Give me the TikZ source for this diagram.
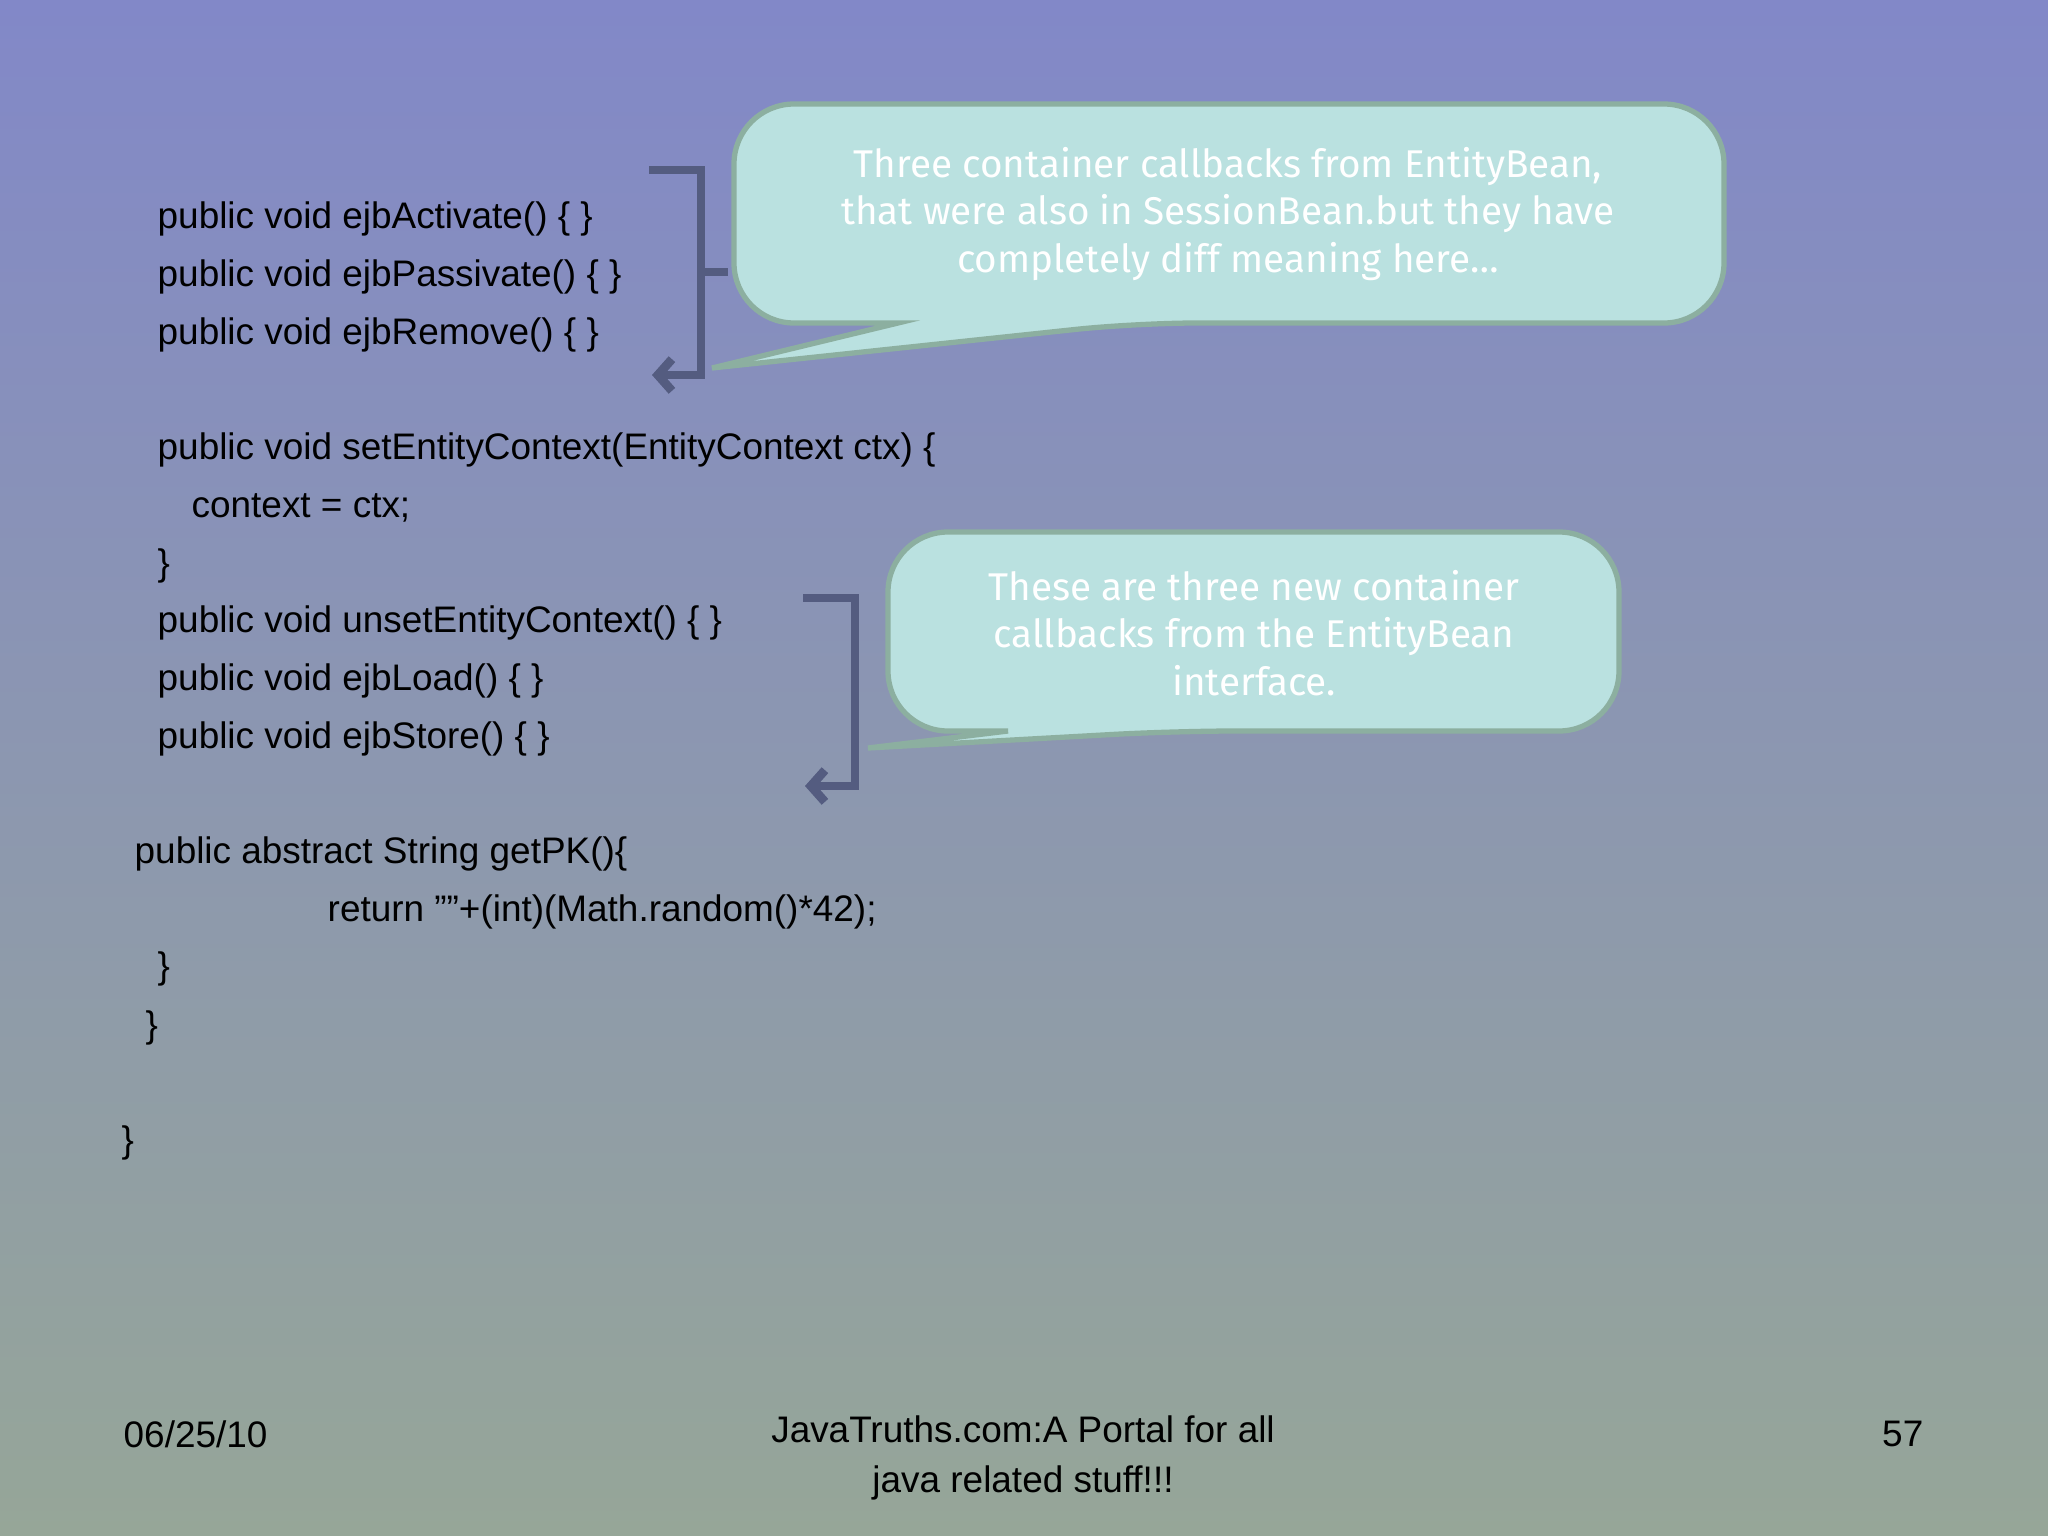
\documentclass[tikz,border=0pt]{standalone}
\usepackage{fontspec}
\setmainfont{Liberation Sans}
\newfontfamily\notefont{Fira Sans}
\usetikzlibrary{arrows.meta}
\definecolor{bgtop}{RGB}{130,136,200}
\definecolor{bgbot}{RGB}{150,166,152}
\definecolor{bubble}{RGB}{186,225,224}
\definecolor{bubbleedge}{RGB}{140,175,160}
\definecolor{brk}{RGB}{84,92,128}
\tikzset{
  code/.style={anchor=west, inner sep=0pt, font=\fontsize{10.5}{12}\selectfont},
  note/.style={align=center, text=white, font=\notefont\fontsize{11}{13.5}\selectfont},
  callout/.style={fill=bubble, draw=bubbleedge, line width=1.5pt, rounded corners=0.6cm},
  bracket/.style={draw=brk, line width=2.5pt, -{Straight Barb[length=4pt,width=9pt]}}
}
\begin{document}
\begin{tikzpicture}[x=0.01cm, y=-0.01cm]
  \shade[top color=bgtop, bottom color=bgbot] (0,0) rectangle (2048,1536);
  \useasboundingbox (0,0) rectangle (2048,1536);

  % callouts
  \draw[callout] (898,323) -- (734,323) -- (734,104) -- (1724,104) -- (1724,323) -- (1136,323)
    [rounded corners=0] -- (712,368) -- cycle;
  \draw[callout] (1008,731) -- (888,731) -- (888,532) -- (1619,532) -- (1619,731) -- (1175,731)
    [rounded corners=0] -- (868,748) -- cycle;
  \node[note] (n1) at (1228,214) {Three container callbacks from EntityBean,\\
    that were also in SessionBean.but they have\\ completely diff meaning here\dots};
  \node[note] (n2) at (1254,633) {These are three new container\\
    callbacks from the EntityBean\\ interface.};

  % brackets
  \draw[bracket] (649,170) -- (701,170) -- (701,375) -- (652,375);
  \draw[brk, line width=2.5pt] (701,272) -- (728,272);
  \draw[bracket] (803,598) -- (855,598) -- (855,786) -- (805,786);

  % code
  \node[code] (c1) at (157,219) {public void ejbActivate() \{ \}};
  \node[code] (c2) at (157,277) {public void ejbPassivate() \{ \}};
  \node[code] (c3) at (157,335) {public void ejbRemove() \{ \}};
  \node[code] (c4) at (157,450) {public void setEntityContext(EntityContext ctx) \{};
  \node[code] (c5) at (191,508) {context = ctx;};
  \node[code] (c6) at (157,566) {\}};
  \node[code] (c7) at (157,623) {public void unsetEntityContext() \{ \}};
  \node[code] (c8) at (157,681) {public void ejbLoad() \{ \}};
  \node[code] (c9) at (157,739) {public void ejbStore() \{ \}};
  \node[code] (c10) at (134,854) {public abstract String getPK()\{};
  \node[code] (c11) at (327,912) {return ""+(int)(Math.random()*42);};
  \node[code] (c12) at (157,969) {\}};
  \node[code] (c13) at (145,1028) {\}};
  \node[code] (c14) at (121,1143) {\}};

  % footer
  \node[code] (date) at (123,1434) {06/25/10};
  \node[align=center, font=\fontsize{10.5}{14}\selectfont] (title) at (1023,1458)
    {JavaTruths.com:A Portal for all\\ java related stuff!!!};
  \node[code, anchor=east] (page) at (1924,1434) {57};
\end{tikzpicture}
\end{document}
